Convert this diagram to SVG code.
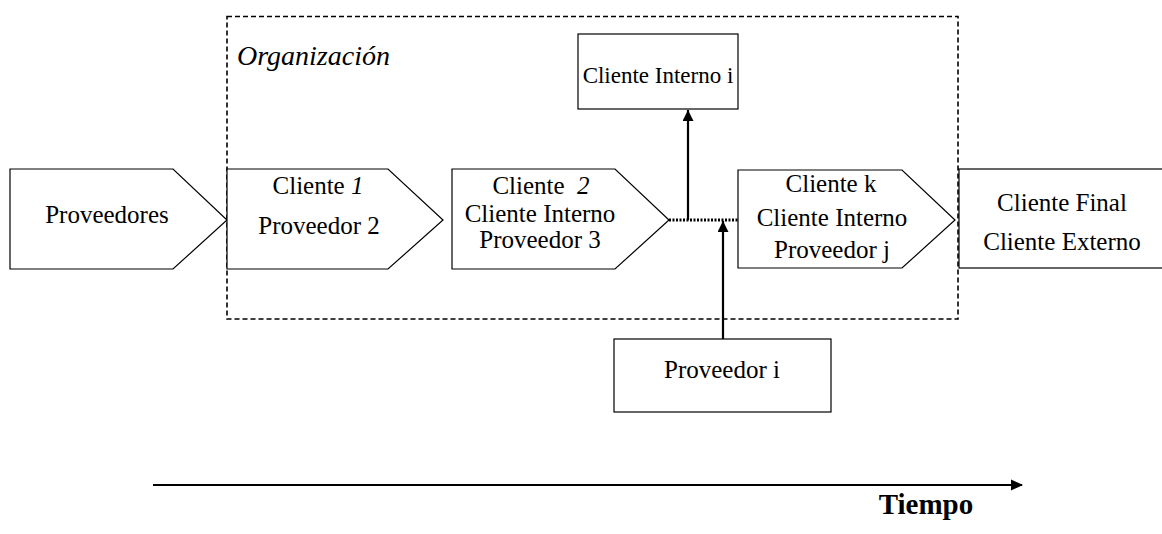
<svg xmlns="http://www.w3.org/2000/svg" width="1162" height="534" viewBox="0 0 1162 534">
<style>
.shape{fill:#fff;stroke:#000;stroke-width:1.2}
.t{font-family:"Liberation Serif","Times New Roman",serif;font-size:25px;fill:#000;text-anchor:middle}
.i{font-style:italic}
.conn{stroke:#000;stroke-width:2.2;fill:none}
</style>
<defs>
<marker id="ah" markerWidth="11" markerHeight="12" refX="11" refY="5.5" orient="auto" markerUnits="userSpaceOnUse">
<path d="M0,0 L11,5.5 L0,11 Z" fill="#000"/>
</marker>
<marker id="ah2" markerWidth="12" markerHeight="12" refX="11" refY="6" orient="auto" markerUnits="userSpaceOnUse">
<path d="M0,0.5 L12,6 L0,11.5 Z" fill="#000"/>
</marker>
</defs>
<rect width="1162" height="534" fill="#fff"/>

<g id="organizacion">
<rect x="227" y="16.5" width="731" height="302.5" fill="none" stroke="#000" stroke-width="1.6" stroke-dasharray="5,3"/>
<text x="237" y="65" class="t i" style="text-anchor:start;font-size:28px">Organización</text>
</g>

<g id="proveedores">
<polygon class="shape" points="10,169 173,169 227,220 173,269 10,269"/>
<text class="t" x="107" y="223">Proveedores</text>
</g>

<g id="cliente1">
<polygon class="shape" points="227,169 388,169 443,220 388,269 227,269"/>
<text class="t" x="318" y="194">Cliente <tspan class="i">1</tspan></text>
<text class="t" x="319" y="234">Proveedor 2</text>
</g>

<g id="cliente2">
<polygon class="shape" points="452,169 615,169 669,220 615,269 452,269"/>
<text class="t" x="541" y="194" xml:space="preserve">Cliente  <tspan class="i">2</tspan></text>
<text class="t" x="540" y="222">Cliente Interno</text>
<text class="t" x="540" y="248">Proveedor 3</text>
</g>

<g id="clientek">
<polygon class="shape" points="738,170 902,170 955,220 902,268 738,268"/>
<text class="t" x="831" y="192">Cliente k</text>
<text class="t" x="832" y="226">Cliente Interno</text>
<text class="t" x="832" y="258">Proveedor j</text>
</g>

<g id="clienteFinal">
<rect class="shape" x="959" y="169" width="215" height="99"/>
<text class="t" x="1062" y="211">Cliente Final</text>
<text class="t" x="1062" y="250">Cliente Externo</text>
</g>

<g id="clienteInternoI">
<rect class="shape" x="578" y="34" width="160" height="75"/>
<text class="t" x="658" y="83" style="font-size:23px">Cliente Interno i</text>
</g>

<g id="proveedorI">
<rect class="shape" x="614" y="339" width="217" height="73"/>
<text class="t" x="722" y="378">Proveedor i</text>
</g>

<g id="connectors">
<line x1="669" y1="220" x2="738" y2="220" stroke="#000" stroke-width="3" stroke-dasharray="2,1.5"/>
<line class="conn" x1="688" y1="220" x2="688" y2="110" marker-end="url(#ah)"/>
<line class="conn" x1="723" y1="339" x2="723" y2="221" marker-end="url(#ah)"/>
<line class="conn" x1="153" y1="485" x2="1022" y2="485" marker-end="url(#ah2)"/>
</g>

<g id="tiempo">
<text class="t" x="926" y="514" style="font-weight:bold;font-size:29px">Tiempo</text>
</g>
</svg>
